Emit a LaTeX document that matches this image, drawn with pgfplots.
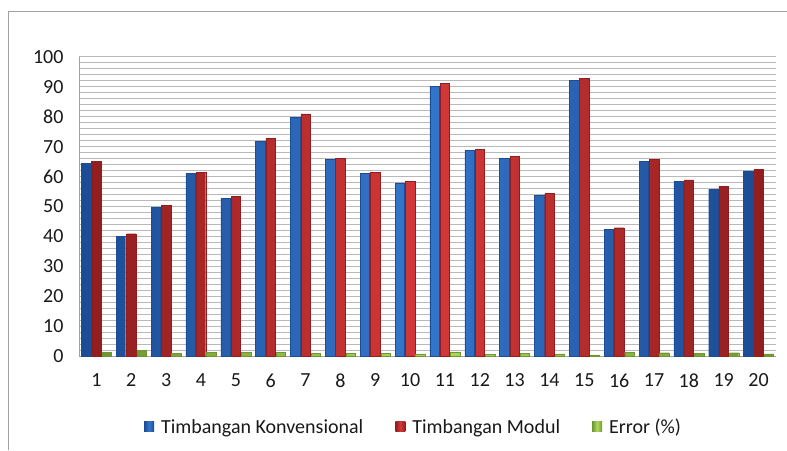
\documentclass[border=0pt]{standalone}
\usepackage{pgfplots}
\pgfplotsset{compat=1.18}
\usepackage{fontspec}
\setmainfont{Carlito}
\definecolor{bluedk}{RGB}{28,76,148}
\definecolor{bluemd}{RGB}{52,118,204}
\definecolor{reddk}{RGB}{145,30,30}
\definecolor{redmd}{RGB}{212,56,56}
\definecolor{grndk}{RGB}{110,150,50}
\definecolor{grnmd}{RGB}{175,215,95}
\definecolor{gridc}{RGB}{185,185,185}
\definecolor{framec}{RGB}{160,160,160}
\definecolor{txt}{RGB}{25,25,25}
\begin{document}
\begin{tikzpicture}
\useasboundingbox (0,0) rectangle (787pt,450pt);
\draw[framec, line width=1pt] (8pt,0pt) -- (8pt,438pt) -- (787pt,438pt);
\begin{axis}[
  at={(79pt,94pt)}, anchor=south west,
  scale only axis, width=697pt, height=299pt,
  ybar=0.8pt, bar width=0.272,
  xmin=0.5, xmax=20.5, ymin=0, ymax=100,
  xtick={1,...,20}, ytick={0,10,...,100},
  minor y tick num=4,
  ymajorgrids, yminorgrids,
  major grid style={gridc, line width=1pt},
  minor grid style={gridc, line width=1pt},
  axis x line*=bottom, axis y line*=left,
  axis line style={framec, line width=1pt},
  major tick length=0pt, minor tick length=0pt,
  tick label style={font=\fontsize{20}{23}\selectfont, text=txt},
  /pgf/number format/assume math mode=true,
  yticklabel style={xshift=-12pt},
  xticklabel style={yshift=-14pt},
  legend columns=3,
  legend style={at={(0.48,-0.237)}, anchor=center, draw=none, fill=none,
    font=\fontsize{20}{23}\selectfont, text=txt,
    /tikz/every odd column/.append style={column sep=5pt},
    /tikz/every even column/.append style={column sep=30pt}},
  legend image code/.code={\draw[#1, draw=none] (0pt,-5pt) rectangle (10pt,5pt);},
]
\addplot[draw=bluedk, left color=bluedk, right color=bluedk, middle color=bluemd] coordinates {
(1,64.4)(2,39.9)(3,49.8)(4,61.0)(5,52.7)(6,71.8)(7,79.9)(8,65.7)(9,61.0)(10,57.9)
(11,90.2)(12,68.7)(13,66.0)(14,53.7)(15,92.3)(16,42.4)(17,65.0)(18,58.3)(19,55.7)(20,61.9)};
\addplot[draw=reddk, left color=reddk, right color=reddk, middle color=redmd] coordinates {
(1,65.0)(2,40.9)(3,50.3)(4,61.4)(5,53.4)(6,72.8)(7,81.0)(8,66.1)(9,61.4)(10,58.3)
(11,91.2)(12,69.2)(13,66.7)(14,54.3)(15,92.8)(16,42.9)(17,65.7)(18,58.9)(19,56.7)(20,62.5)};
\addplot[draw=grndk, left color=grndk, right color=grndk, middle color=grnmd] coordinates {
(1,1.2)(2,1.9)(3,0.9)(4,1.2)(5,1.2)(6,1.2)(7,0.8)(8,0.9)(9,0.8)(10,0.7)
(11,1.4)(12,0.5)(13,0.9)(14,0.7)(15,0.4)(16,1.3)(17,1.1)(18,0.9)(19,1.1)(20,0.7)};
\legend{Timbangan Konvensional, Timbangan Modul, Error (\%)}
\end{axis}
\end{tikzpicture}
\end{document}
